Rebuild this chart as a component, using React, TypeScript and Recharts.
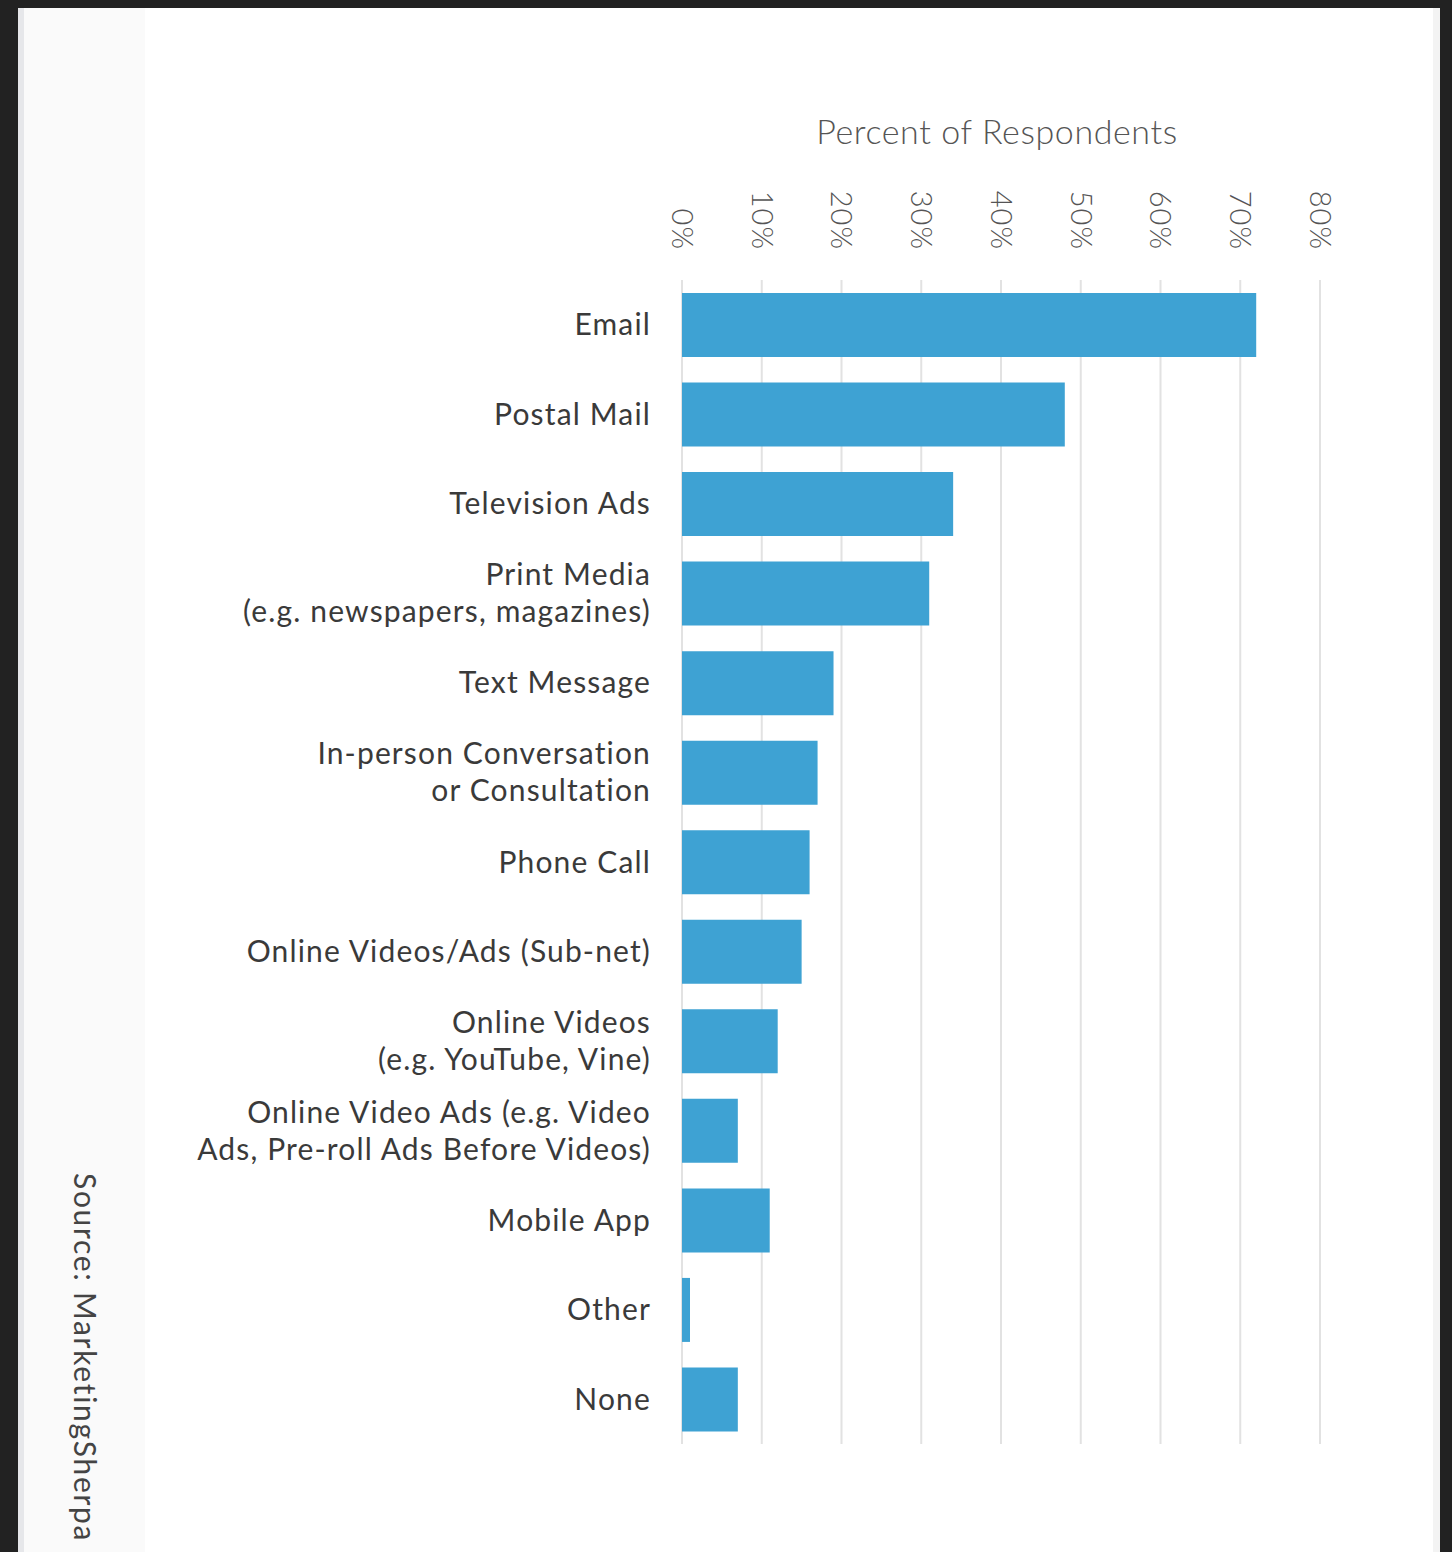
import React from 'react';
import { BarChart, Bar, XAxis, YAxis, CartesianGrid } from 'recharts';

// Survey answers, top to bottom; "\n" splits a label over two lines
const channels = [
  'Email',
  'Postal Mail',
  'Television Ads',
  'Print Media\n(e.g. newspapers, magazines)',
  'Text Message',
  'In-person Conversation\nor Consultation',
  'Phone Call',
  'Online Videos/Ads (Sub-net)',
  'Online Videos\n(e.g. YouTube, Vine)',
  'Online Video Ads (e.g. Video\nAds, Pre-roll Ads Before Videos)',
  'Mobile App',
  'Other',
  'None',
];
const percents = [72, 48, 34, 31, 19, 17, 16, 15, 12, 7, 11, 1, 7];
const percentTicks = [0, 10, 20, 30, 40, 50, 60, 70, 80];

const data = channels.map((name, i) => ({ name, value: percents[i] }));

const FONT = 'Lato, "Noto Sans", sans-serif';

const ChannelTick = ({ x, y, payload }: any) => {
  const lines = String(payload.value).split('\n');
  const lh = 37;
  const start = -((lines.length - 1) * lh) / 2;
  return (
    <text x={x} y={y} textAnchor="end" fill="#3a3a3a" fontSize={30} fontFamily={FONT} letterSpacing={1.15}>
      {lines.map((l, i) => (
        <tspan key={i} x={x} y={y + start + i * lh} dy="0.35em">
          {l}
        </tspan>
      ))}
    </text>
  );
};

const PercentTick = ({ x, y, payload }: any) => (
  <text
    x={x}
    y={y}
    transform={`rotate(90 ${x} ${y})`}
    textAnchor="end"
    dy="0.35em"
    fill="#555"
    fontSize={29}
    fontFamily={FONT}
    fontWeight={300}
    letterSpacing={1}
  >
    {payload.value}%
  </text>
);

const AxisTitle = ({ viewBox }: any) => (
  <text
    x={viewBox.x + viewBox.width / 2 - 4}
    y={viewBox.y + 70}
    textAnchor="middle"
    dominantBaseline="central"
    fill="#555"
    fontSize={34}
    fontFamily={FONT}
    fontWeight={300}
    letterSpacing={0.6}
  >
    Percent of Respondents
  </text>
);

export default function App() {
  return (
    <div style={{ position: 'absolute', left: 0, top: 0, width: 1452, height: 1552, background: '#222', overflow: 'hidden' }}>
      <div style={{ position: 'absolute', left: 18, top: 8, width: 1422, height: 1544, background: '#fff' }} />
      <div style={{ position: 'absolute', left: 18, top: 8, width: 127, height: 1544, background: '#fafafa', borderLeft: '6px solid #e6e7ea', boxSizing: 'border-box' }} />
      <div style={{ position: 'absolute', left: 1433, top: 8, width: 7, height: 1544, background: '#f3f3f3' }} />
      <div
        style={{
          position: 'absolute',
          left: 68,
          top: 1173,
          writingMode: 'vertical-rl',
          fontFamily: FONT,
          fontSize: 30,
          letterSpacing: 1.7,
          color: '#444',
          whiteSpace: 'nowrap',
        }}
      >
        Source: MarketingSherpa
      </div>
      <div style={{ position: 'absolute', left: 0, top: 0 }}>
        <BarChart
          width={1452}
          height={1552}
          data={data}
          layout="vertical"
          margin={{ top: 60, right: 132, bottom: 108, left: 150 }}
        >
          <CartesianGrid horizontal={false} stroke="#e2e2e2" strokeWidth={2} />
          <XAxis
            type="number"
            orientation="top"
            domain={[0, 80]}
            ticks={percentTicks}
            height={220}
            axisLine={false}
            tickLine={false}
            tickSize={0}
            tickMargin={30}
            tick={<PercentTick />}
            label={<AxisTitle />}
            interval={0}
          />
          <YAxis
            type="category"
            dataKey="name"
            width={532}
            axisLine={false}
            tickLine={false}
            tickSize={0}
            tickMargin={31}
            tick={<ChannelTick />}
            interval={0}
          />
          <Bar dataKey="value" fill="#3ea2d3" barSize={64} isAnimationActive={false} />
        </BarChart>
      </div>
    </div>
  );
}
